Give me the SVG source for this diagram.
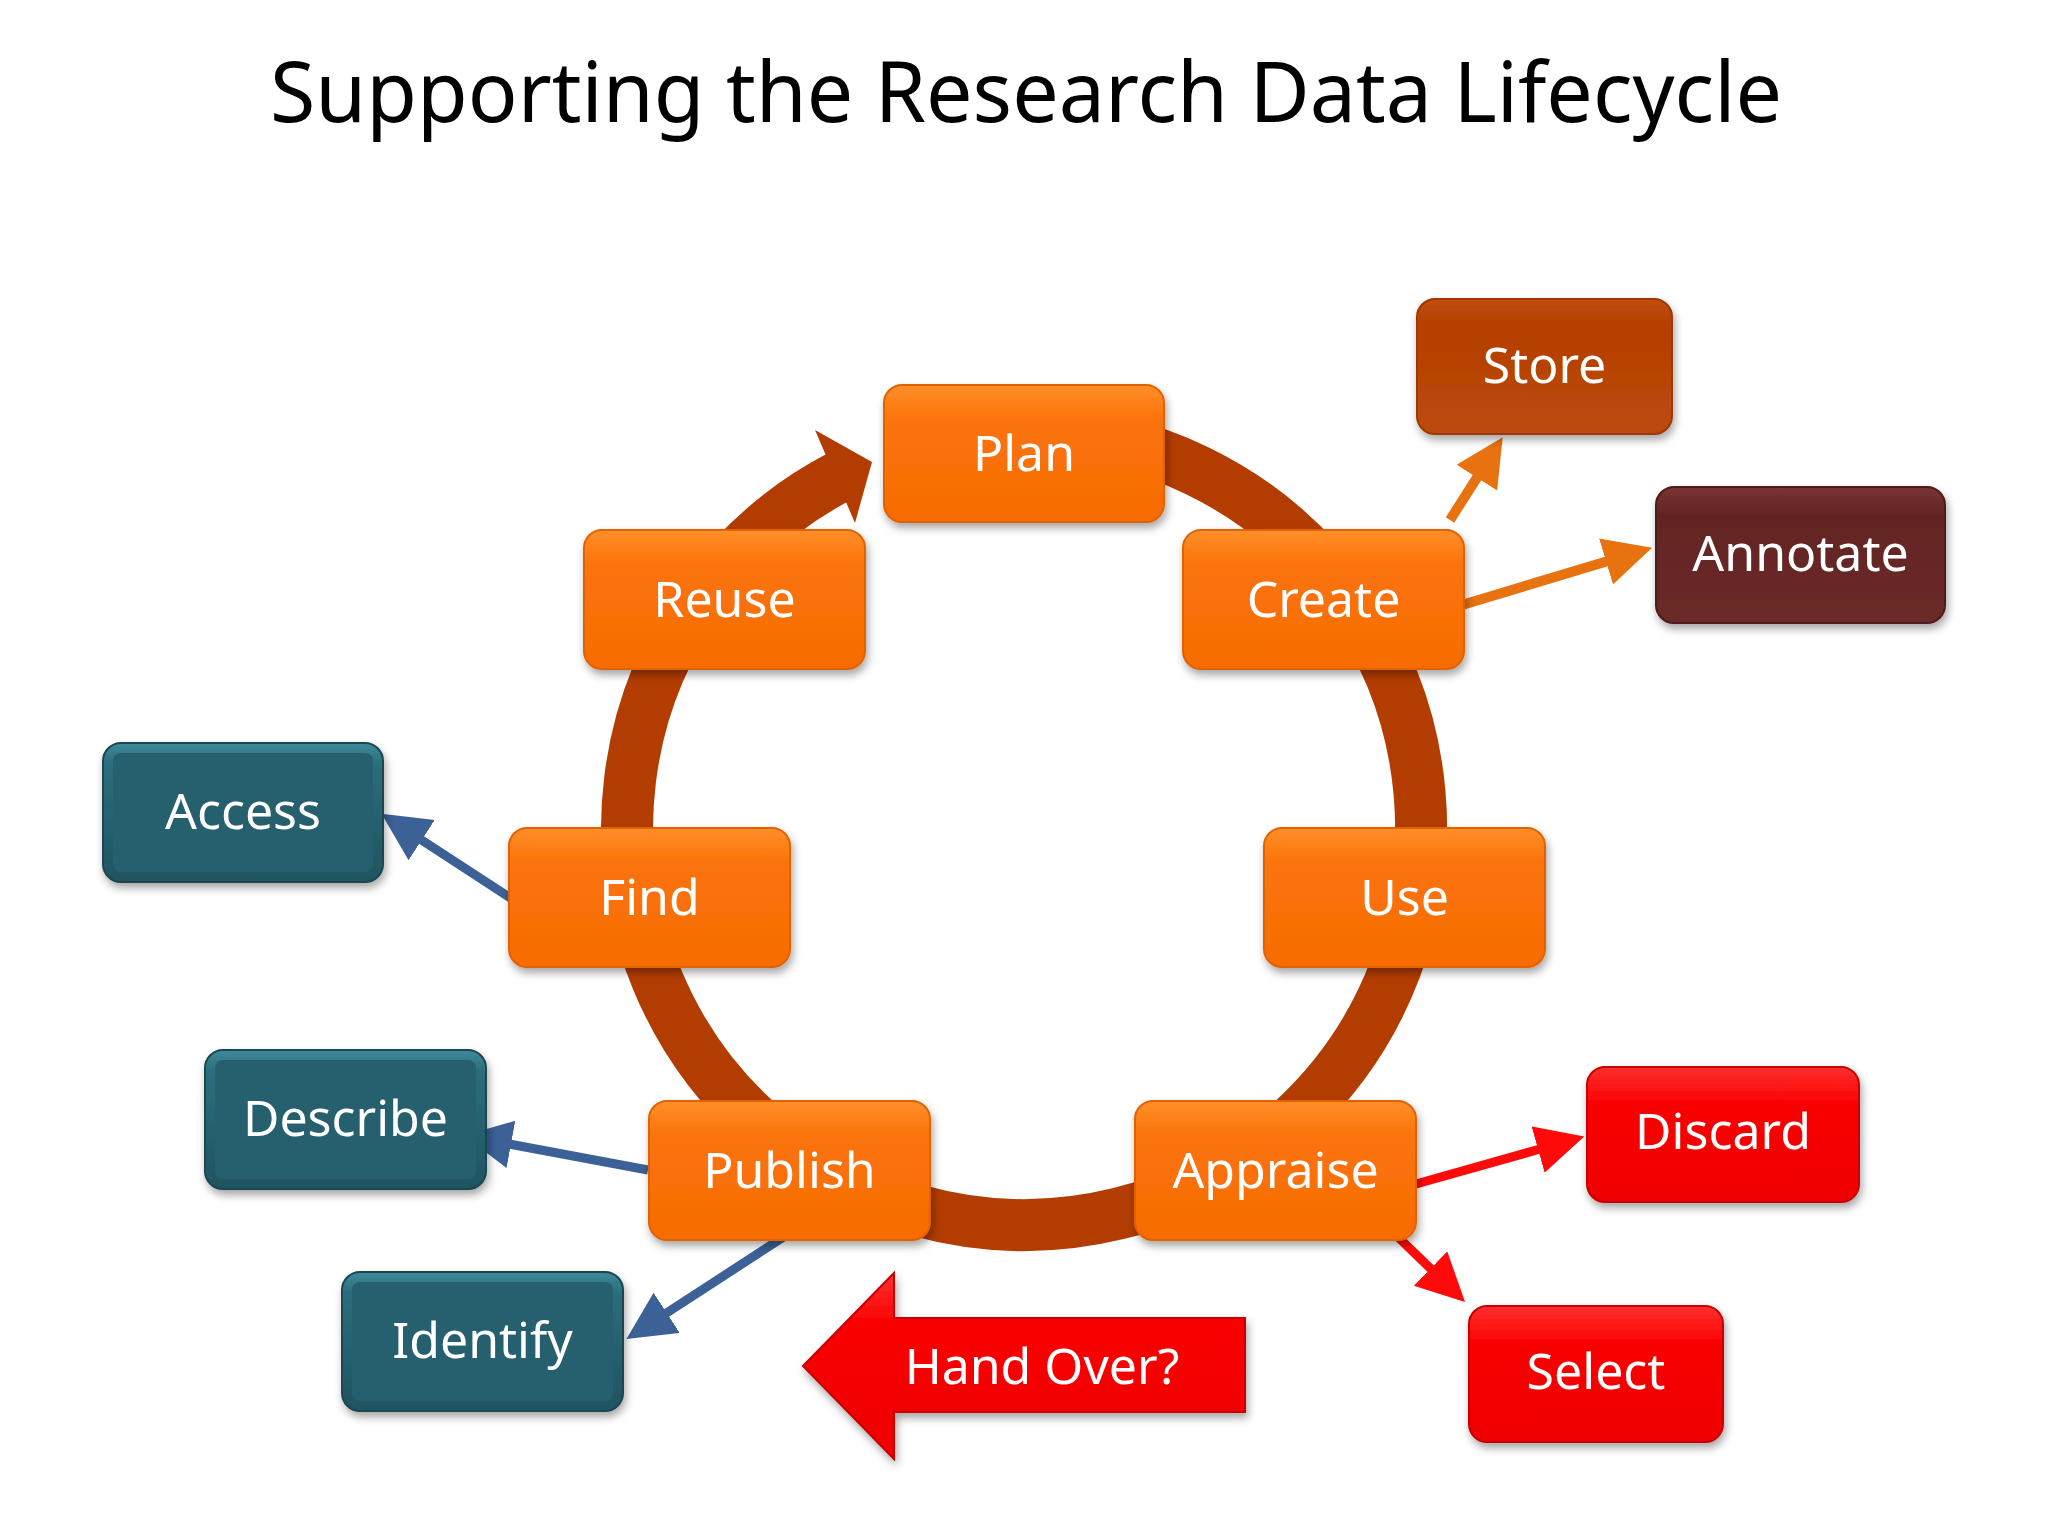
<svg xmlns="http://www.w3.org/2000/svg" width="2048" height="1536" viewBox="0 0 2048 1536">
  <defs>
    <linearGradient id="gOrange" x1="0" y1="0" x2="0" y2="1">
      <stop offset="0" stop-color="#FF8F2A"/>
      <stop offset="0.25" stop-color="#FB7309"/>
      <stop offset="1" stop-color="#F66C04"/>
    </linearGradient>
    <linearGradient id="gStore" x1="0" y1="0" x2="0" y2="1">
      <stop offset="0" stop-color="#C24E10"/>
      <stop offset="0.2" stop-color="#B53F00"/>
      <stop offset="1" stop-color="#BC4A0C"/>
    </linearGradient>
    <linearGradient id="gAnn" x1="0" y1="0" x2="0" y2="1">
      <stop offset="0" stop-color="#7A3534"/>
      <stop offset="0.2" stop-color="#632423"/>
      <stop offset="1" stop-color="#6A2A29"/>
    </linearGradient>
    <linearGradient id="gTeal" x1="0" y1="0" x2="0" y2="1">
      <stop offset="0" stop-color="#3F8A9A"/>
      <stop offset="0.15" stop-color="#2C6D7C"/>
      <stop offset="1" stop-color="#1F5461"/>
    </linearGradient>
    <linearGradient id="gRed" x1="0" y1="0" x2="0" y2="1">
      <stop offset="0" stop-color="#FF3030"/>
      <stop offset="0.25" stop-color="#FA0505"/>
      <stop offset="1" stop-color="#EE0000"/>
    </linearGradient>
    <filter id="shadow" x="-10%" y="-10%" width="125%" height="135%">
      <feDropShadow dx="2" dy="5" stdDeviation="4" flood-color="#000" flood-opacity="0.35"/>
    </filter>
    <marker id="mOrange" markerUnits="userSpaceOnUse" markerWidth="52" markerHeight="52" refX="2" refY="24" orient="auto">
      <path d="M0,0 L48,24 L0,48 z" fill="#E8720F"/>
    </marker>
    <marker id="mBlue" markerUnits="userSpaceOnUse" markerWidth="52" markerHeight="52" refX="2" refY="24" orient="auto">
      <path d="M0,0 L48,24 L0,48 z" fill="#3B6196"/>
    </marker>
    <marker id="mRed" markerUnits="userSpaceOnUse" markerWidth="52" markerHeight="52" refX="2" refY="24" orient="auto">
      <path d="M0,0 L48,24 L0,48 z" fill="#FF0A0A"/>
    </marker>
    <style>
      .lbl { font-family: "Noto Sans", "Open Sans", sans-serif; font-size: 50px; fill: #FFFFFF; text-anchor: middle; }
      .title { font-family: "Noto Sans", "Open Sans", sans-serif; font-size: 84px; fill: #000000; text-anchor: middle; }
      .orange { fill: url(#gOrange); stroke: #E26205; stroke-width: 2; filter: url(#shadow); }
      .store { fill: url(#gStore); stroke: #9E3800; stroke-width: 2; filter: url(#shadow); }
      .ann { fill: url(#gAnn); stroke: #4E1A1A; stroke-width: 2; filter: url(#shadow); }
      .teal { fill: url(#gTeal); stroke: #1A4651; stroke-width: 2; filter: url(#shadow); }
      .tealin { fill: #265F6D; }
      .red { fill: url(#gRed); stroke: #C80000; stroke-width: 2; filter: url(#shadow); }
      .cOrange { stroke: #E8720F; stroke-width: 10; fill: none; marker-end: url(#mOrange); }
      .cBlue { stroke: #3B6196; stroke-width: 9; fill: none; marker-end: url(#mBlue); }
      .cRed { stroke: #FF0A0A; stroke-width: 9; fill: none; marker-end: url(#mRed); }
    </style>
  </defs>

  <rect x="0" y="0" width="2048" height="1536" fill="#FFFFFF"/>

  <text class="title" x="1026" y="122" textLength="1512" lengthAdjust="spacingAndGlyphs">Supporting the Research Data Lifecycle</text>

  <g id="cycle">
    <path d="M1024,431 A397,397 0 1 1 840.7,475.9" fill="none" stroke="#B33C00" stroke-width="52"/>
    <polygon points="815,430 872,462 855,523" fill="#B33C00"/>
  </g>

  <g id="connectors">
    <line class="cOrange" x1="1450" y1="520" x2="1478" y2="476"/>
    <line class="cOrange" x1="1452" y1="608" x2="1608" y2="561"/>
    <line class="cBlue" x1="512" y1="899" x2="420" y2="839"/>
    <line class="cBlue" x1="648" y1="1170" x2="509" y2="1144"/>
    <line class="cBlue" x1="785" y1="1236" x2="665" y2="1314"/>
    <line class="cRed" x1="1416" y1="1184" x2="1540" y2="1149"/>
    <line class="cRed" x1="1399" y1="1238" x2="1432" y2="1270"/>
  </g>

  <g id="plan">
    <rect class="orange" x="884" y="385" width="280" height="137" rx="18"/>
    <text class="lbl" x="1024" y="471">Plan</text>
  </g>
  <g id="reuse">
    <rect class="orange" x="584" y="530" width="281" height="139" rx="18"/>
    <text class="lbl" x="724.5" y="617">Reuse</text>
  </g>
  <g id="create">
    <rect class="orange" x="1183" y="530" width="281" height="139" rx="18"/>
    <text class="lbl" x="1323.5" y="617">Create</text>
  </g>
  <g id="find">
    <rect class="orange" x="509" y="828" width="281" height="139" rx="18"/>
    <text class="lbl" x="649.5" y="915">Find</text>
  </g>
  <g id="use">
    <rect class="orange" x="1264" y="828" width="281" height="139" rx="18"/>
    <text class="lbl" x="1404.5" y="915">Use</text>
  </g>
  <g id="publish">
    <rect class="orange" x="649" y="1101" width="281" height="139" rx="18"/>
    <text class="lbl" x="789.5" y="1188">Publish</text>
  </g>
  <g id="appraise">
    <rect class="orange" x="1135" y="1101" width="281" height="139" rx="18"/>
    <text class="lbl" x="1275.5" y="1188">Appraise</text>
  </g>

  <g id="store">
    <rect class="store" x="1417" y="299" width="255" height="135" rx="18"/>
    <text class="lbl" x="1544.5" y="383">Store</text>
  </g>
  <g id="annotate">
    <rect class="ann" x="1656" y="487" width="289" height="136" rx="18"/>
    <text class="lbl" x="1800.5" y="571">Annotate</text>
  </g>

  <g id="access">
    <rect class="teal" x="103" y="743" width="280" height="139" rx="18"/>
    <rect class="tealin" x="113" y="753" width="260" height="119" rx="8"/>
    <text class="lbl" x="243" y="829">Access</text>
  </g>
  <g id="describe">
    <rect class="teal" x="205" y="1050" width="281" height="139" rx="18"/>
    <rect class="tealin" x="215" y="1060" width="261" height="119" rx="8"/>
    <text class="lbl" x="345.5" y="1136">Describe</text>
  </g>
  <g id="identify">
    <rect class="teal" x="342" y="1272" width="281" height="139" rx="18"/>
    <rect class="tealin" x="352" y="1282" width="261" height="119" rx="8"/>
    <text class="lbl" x="482.5" y="1358">Identify</text>
  </g>

  <g id="discard">
    <rect class="red" x="1587" y="1067" width="272" height="135" rx="18"/>
    <text class="lbl" x="1723" y="1149">Discard</text>
  </g>
  <g id="select">
    <rect class="red" x="1469" y="1306" width="254" height="136" rx="18"/>
    <text class="lbl" x="1596" y="1389">Select</text>
  </g>

  <g id="handover">
    <polygon class="red" points="803,1366 894,1273 894,1318 1245,1318 1245,1412 894,1412 894,1459"/>
    <text class="lbl" x="1042" y="1384">Hand Over?</text>
  </g>
</svg>
